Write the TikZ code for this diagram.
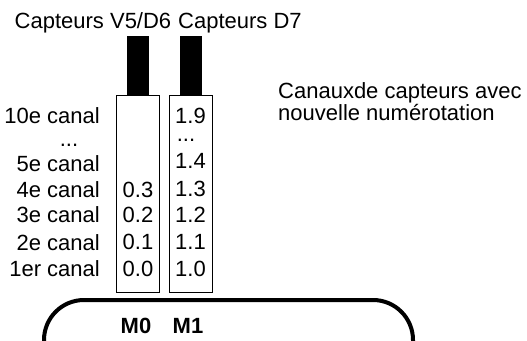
\documentclass[tikz,border=0pt]{standalone}
\usepackage{fontspec}
\setmainfont{Liberation Sans}

\begin{document}
\begin{tikzpicture}[
	x=1pt, y=-1pt,
	font=\fontsize{22}{25}\selectfont,
	lbl/.style={anchor=base east, inner sep=0pt},
	val/.style={anchor=base, inner sep=0pt},
	bar/.style={fill=black, minimum width=22pt, minimum height=59pt, inner sep=0pt, anchor=north},
	slot/.style={draw, line width=0.8pt, minimum width=43pt, minimum height=197pt, inner sep=0pt, anchor=north}]
\useasboundingbox (0,0) rectangle (527,340);
% capteurs
\node[val] (hdA) at (93,28) {Capteurs V5/D6};
\node[val, anchor=base west] (hdB) at (178,28) {Capteurs D7};
\node[bar] (barA) at (138,36) {};
\node[bar] (barB) at (190.5,36) {};
\node[slot] (slotA) at (138,95) {};
\node[slot] (slotB) at (190.5,95) {};
% canaux
\node[lbl] (ch10) at (100,123) {10e canal};
\node[val] (chdots) at (69,146) {...};
\node[lbl] (ch5) at (100,171) {5e canal};
\node[lbl] (ch4) at (100,197) {4e canal};
\node[lbl] (ch3) at (100,222) {3e canal};
\node[lbl] (ch2) at (100,250) {2e canal};
\node[lbl] (ch1) at (100,276) {1er canal};
% numerotation
\node[val] (a3) at (138,197) {0.3};
\node[val] (a2) at (138,222) {0.2};
\node[val] (a1) at (138,249) {0.1};
\node[val] (a0) at (138,276) {0.0};
\node[val] (b9) at (190.5,123) {1.9};
\node[val] (bdots) at (186,141) {...};
\node[val] (b4) at (190.5,168) {1.4};
\node[val] (b3) at (190.5,196) {1.3};
\node[val] (b2) at (190.5,222) {1.2};
\node[val] (b1) at (190.5,249) {1.1};
\node[val] (b0) at (190.5,276) {1.0};
\node[val, anchor=base west] (noteA) at (278,98) {Canauxde capteurs avec};
\node[val, anchor=base west] (noteB) at (278,120) {nouvelle numérotation};
% module
\draw[line width=4pt, rounded corners=40pt] (44,360) |- (413,300) -- (413,360);
\node[val, font=\fontsize{22}{25}\selectfont\bfseries] (m0) at (136,333) {M0};
\node[val, font=\fontsize{22}{25}\selectfont\bfseries] (m1) at (188,333) {M1};
\end{tikzpicture}
\end{document}
